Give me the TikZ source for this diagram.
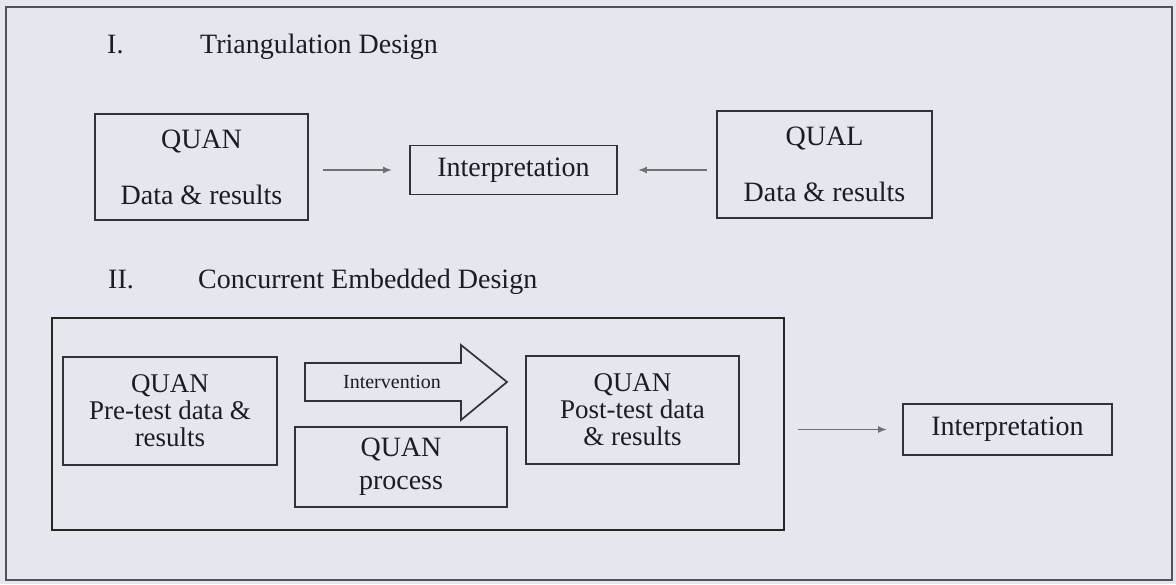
\documentclass[tikz,border=0pt]{standalone}
\usepackage{fontspec}
\setmainfont{Liberation Serif}
\usetikzlibrary{arrows.meta}
\definecolor{paper}{RGB}{230,230,238}
\definecolor{ink}{RGB}{28,28,34}
\definecolor{edge}{RGB}{50,50,58}
\definecolor{arrowgray}{RGB}{108,114,114}
\begin{document}
\begin{tikzpicture}[x=1pt,y=-1pt,
  box/.style={draw=edge, line width=1.7pt, text=ink, inner sep=0pt, align=center, font=\fontsize{28}{56}\selectfont},
  boxtwo/.style={box, font=\fontsize{27}{27}\selectfont},
  heading/.style={text=ink, inner sep=0pt, anchor=base west, font=\fontsize{28}{32}\selectfont},
  conn/.style={draw=arrowgray, line width=1.8pt, -{Latex[length=9pt,width=7pt]}}
]
\useasboundingbox (0,0) rectangle (1176,584);
\fill[paper] (0,0) rectangle (1176,584);
% outer frame
\draw[draw=edge!85, line width=1.6pt] (6,7) rectangle (1172,580);

% Section I
\node[heading] (h1n) at (107,53) {I.};
\node[heading] (h1t) at (200,53) {Triangulation Design};
\node[box, minimum width=213pt, minimum height=106pt] (quan1) at (201.5,167) {QUAN\\Data \& results};
\node[box, minimum width=207pt, minimum height=49pt, font=\fontsize{28}{32}\selectfont] (interp1) at (513.5,170) {Interpretation};
\node[box, minimum width=215pt, minimum height=107pt] (qual1) at (824.5,164.5) {QUAL\\Data \& results};
\draw[conn, shorten <=14pt, shorten >=17pt] (quan1.east |- interp1.west) -- (interp1.west);
\draw[conn, shorten <=9pt, shorten >=20pt] (qual1.west |- interp1.east) -- (interp1.east);

% Section II
\node[heading] (h2n) at (108,288) {II.};
\node[heading] (h2t) at (198,288) {Concurrent Embedded Design};
\node[draw=black!85, line width=2.6pt, minimum width=732pt, minimum height=212pt, inner sep=0pt] (embed) at (418,424) {};
\node[boxtwo, minimum width=214pt, minimum height=108pt] (pre) at (170,411) {QUAN\\Pre-test data \&\\results};
\node[boxtwo, minimum width=213pt, minimum height=108pt] (post) at (632.5,410) {QUAN\\Post-test data\\\& results};
\node[box, minimum width=212pt, minimum height=80pt, font=\fontsize{28}{33}\selectfont] (proc) at (401,467) {QUAN\\process};
\draw[draw=edge, line width=1.7pt, line join=miter] (305,363) -- (461,363) -- (461,345) -- (507,382) -- (461,420) -- (461,401) -- (305,401) -- cycle;
\node[text=ink, inner sep=0pt, font=\fontsize{20}{22}\selectfont] (interv) at (392,382) {Intervention};
\node[box, minimum width=209pt, minimum height=51pt, font=\fontsize{28}{32}\selectfont] (interp2) at (1007.5,429.5) {Interpretation};
\draw[conn, shorten <=13pt, shorten >=15pt] (embed.east |- interp2.west) -- (interp2.west);
\end{tikzpicture}
\end{document}
